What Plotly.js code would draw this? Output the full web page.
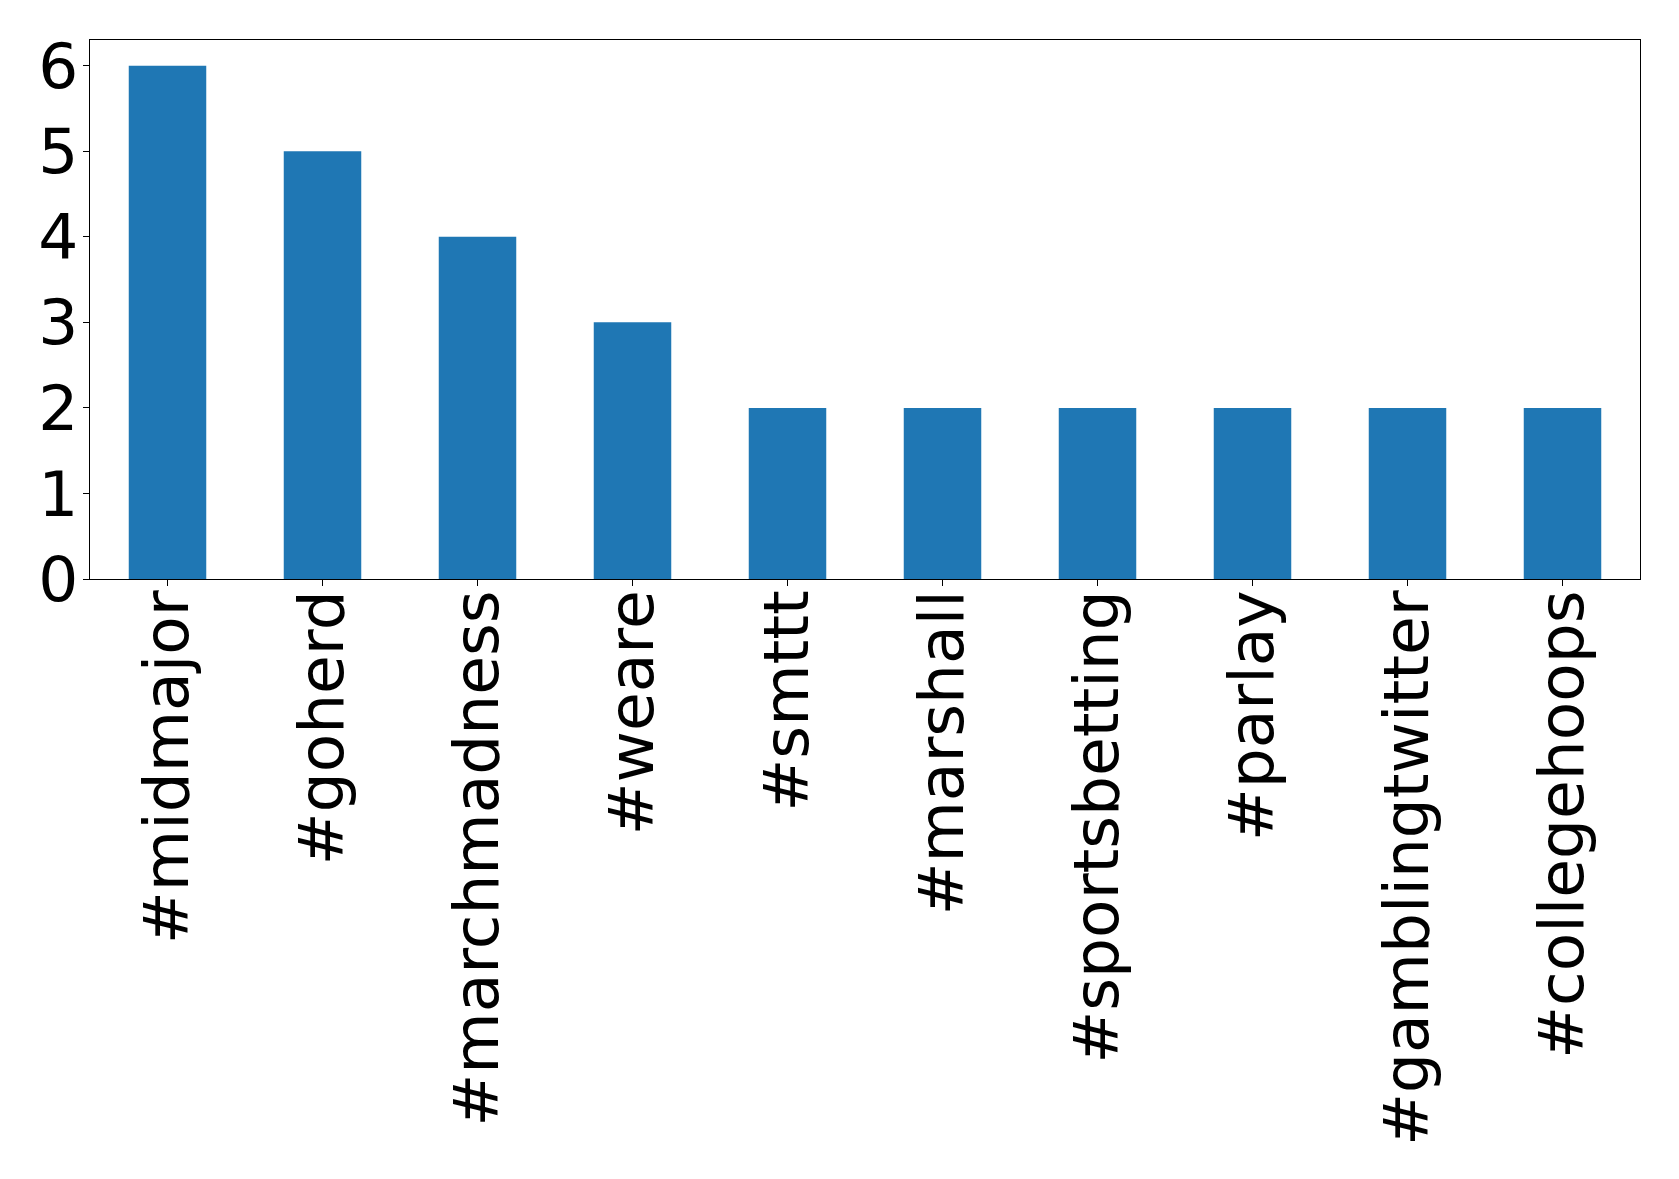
<!DOCTYPE html>
<html>
<head>
<meta charset="utf-8">
<script src="https://cdn.plot.ly/plotly-3.0.1.min.js"></script>
<style>html,body{margin:0;padding:0;background:#fff;}</style>
</head>
<body>
<div id="chart" style="width:1679px;height:1179px;"></div>
<script>
const hashtags = ["#midmajor", "#goherd", "#marchmadness", "#weare", "#smttt", "#marshall", "#sportsbetting", "#parlay", "#gamblingtwitter", "#collegehoops"];
const counts = [6, 5, 4, 3, 2, 2, 2, 2, 2, 2];

const fontFam = "DejaVu Sans, sans-serif";
Plotly.newPlot("chart", [{
  type: "bar",
  x: hashtags,
  y: counts,
  width: 0.5,
  marker: {color: "#1f77b4", line: {width: 0}},
  hoverinfo: "x+y"
}], {
  width: 1679,
  height: 1179,
  margin: {l: 90, r: 39, t: 40, b: 600},
  paper_bgcolor: "#fff",
  plot_bgcolor: "#fff",
  showlegend: false,
  font: {family: fontFam, color: "#000"},
  xaxis: {
    type: "category",
    range: [-0.5, 9.5],
    tickangle: -90,
    tickfont: {family: fontFam, size: 63, color: "#000"},
    ticks: "outside", ticklen: 6, tickwidth: 1.3, tickcolor: "#000",
    showline: true, linecolor: "#000", linewidth: 1.3, mirror: true,
    showgrid: false, zeroline: false,
    ticklabelstandoff: -21
  },
  yaxis: {
    range: [0, 6.3],
    dtick: 1, tick0: 0,
    tickfont: {family: fontFam, size: 63, color: "#000"},
    ticks: "outside", ticklen: 6, tickwidth: 1.3, tickcolor: "#000",
    showline: true, linecolor: "#000", linewidth: 1.3, mirror: true,
    showgrid: false, zeroline: false,
    ticklabelstandoff: -8
  }
}, {displayModeBar: false, staticPlot: false});
</script>
</body>
</html>
